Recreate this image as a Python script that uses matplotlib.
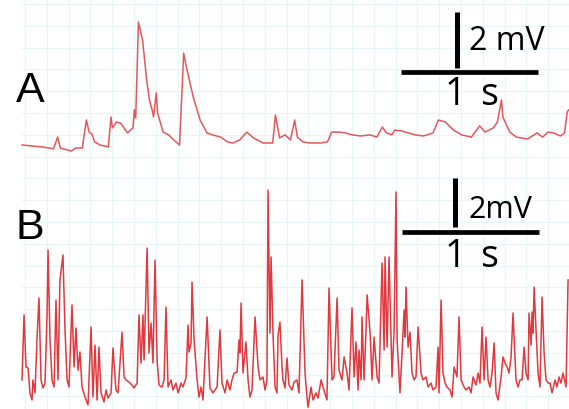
import numpy as np
import matplotlib
matplotlib.use("Agg")
import matplotlib.pyplot as plt

# trace A: time (s) and potential (mV)
time_a = [0.00, 0.08, 0.15, 0.23, 0.26, 0.28, 0.33, 0.36, 0.39, 0.44,
          0.47, 0.49, 0.51, 0.53, 0.57, 0.63, 0.65, 0.66, 0.69, 0.72,
          0.77, 0.81, 0.82, 0.83, 0.85, 0.88, 0.91, 0.93, 0.95, 0.96,
          0.98, 0.99, 1.03, 1.07, 1.10, 1.15, 1.18, 1.20, 1.25, 1.30,
          1.35, 1.39, 1.45, 1.50, 1.54, 1.59, 1.64, 1.69, 1.76, 1.83,
          1.85, 1.88, 1.92, 1.96, 1.99, 2.01, 2.05, 2.10, 2.18, 2.23,
          2.26, 2.31, 2.36, 2.41, 2.47, 2.54, 2.59, 2.63, 2.66, 2.70,
          2.72, 2.77, 2.82, 2.87, 2.93, 3.00, 3.04, 3.09, 3.15, 3.21,
          3.28, 3.34, 3.38, 3.44, 3.47, 3.50, 3.51, 3.56, 3.61, 3.69,
          3.76, 3.80, 3.84, 3.88, 3.93, 3.96, 3.98, 3.99]
volt_a = [0.18, 0.14, 0.11, 0.04, 0.46, 0.07, 0.00, -0.04, 0.07, 0.07,
          1.07, 0.64, 0.57, 0.29, 0.18, 0.11, 1.18, 0.79, 1.00, 0.96,
          0.61, 0.79, 1.43, 1.14, 4.57, 3.93, 2.50, 1.79, 1.43, 1.18,
          2.04, 1.32, 0.64, 0.54, 0.39, 0.18, 3.46, 2.96, 1.89, 1.07,
          0.61, 0.54, 0.46, 0.29, 0.25, 0.36, 0.64, 0.43, 0.25, 0.25,
          1.25, 0.43, 0.54, 0.36, 1.07, 0.46, 0.29, 0.25, 0.25, 0.29,
          0.64, 0.64, 0.61, 0.54, 0.50, 0.54, 0.46, 0.82, 0.61, 0.54,
          0.71, 0.68, 0.61, 0.54, 0.50, 0.61, 1.07, 1.00, 0.71, 0.54,
          0.46, 0.86, 0.64, 0.79, 1.00, 1.79, 1.18, 0.64, 0.46, 0.39,
          0.61, 0.46, 0.64, 0.61, 0.50, 0.61, 1.36, 1.43]

# trace B: time (s) and potential (mV)
time_b = [0.000, 0.015, 0.029, 0.044, 0.058, 0.073, 0.080, 0.095, 0.109, 0.124,
          0.139, 0.153, 0.168, 0.183, 0.190, 0.204, 0.219, 0.234, 0.248, 0.263,
          0.277, 0.299, 0.314, 0.329, 0.343, 0.365, 0.380, 0.394, 0.409, 0.423,
          0.438, 0.460, 0.482, 0.504, 0.518, 0.533, 0.548, 0.562, 0.577, 0.599,
          0.613, 0.628, 0.650, 0.664, 0.686, 0.701, 0.730, 0.745, 0.759, 0.781,
          0.803, 0.818, 0.840, 0.854, 0.869, 0.883, 0.891, 0.913, 0.927, 0.942,
          0.956, 0.971, 0.986, 1.000, 1.022, 1.037, 1.051, 1.066, 1.088, 1.102,
          1.124, 1.139, 1.161, 1.175, 1.197, 1.212, 1.219, 1.234, 1.241, 1.256,
          1.278, 1.292, 1.307, 1.321, 1.351, 1.372, 1.394, 1.424, 1.445, 1.460,
          1.482, 1.497, 1.518, 1.533, 1.548, 1.570, 1.584, 1.591, 1.599, 1.613,
          1.635, 1.650, 1.664, 1.679, 1.701, 1.723, 1.737, 1.759, 1.774, 1.788,
          1.796, 1.810, 1.818, 1.832, 1.847, 1.861, 1.869, 1.883, 1.898, 1.905,
          1.920, 1.934, 1.949, 1.971, 1.986, 2.007, 2.022, 2.044, 2.066, 2.080,
          2.088, 2.110, 2.124, 2.146, 2.161, 2.183, 2.197, 2.219, 2.226, 2.241,
          2.263, 2.277, 2.300, 2.314, 2.336, 2.351, 2.373, 2.387, 2.409, 2.424,
          2.438, 2.453, 2.460, 2.475, 2.482, 2.497, 2.511, 2.519, 2.533, 2.541,
          2.555, 2.570, 2.592, 2.606, 2.628, 2.643, 2.650, 2.665, 2.679, 2.701,
          2.716, 2.730, 2.738, 2.759, 2.774, 2.789, 2.796, 2.803, 2.818, 2.832,
          2.847, 2.862, 2.876, 2.891, 2.913, 2.927, 2.949, 2.964, 2.986, 3.000,
          3.022, 3.037, 3.044, 3.059, 3.073, 3.088, 3.102, 3.124, 3.139, 3.154,
          3.175, 3.190, 3.205, 3.227, 3.241, 3.263, 3.278, 3.292, 3.314, 3.329,
          3.343, 3.358, 3.373, 3.387, 3.402, 3.416, 3.431, 3.446, 3.460, 3.475,
          3.497, 3.511, 3.526, 3.541, 3.555, 3.570, 3.584, 3.606, 3.621, 3.635,
          3.650, 3.665, 3.679, 3.694, 3.701, 3.716, 3.723, 3.730, 3.738, 3.752,
          3.767, 3.781, 3.796, 3.811, 3.825, 3.840, 3.854, 3.869, 3.891, 3.905,
          3.920, 3.934, 3.949, 3.971, 3.986]
volt_b = [0.82, 3.47, 1.35, 1.31, 0.29, 0.00, 0.82, 0.29, 2.45, 4.16,
          0.82, 0.49, 0.69, 3.55, 6.12, 2.57, 0.82, 0.53, 4.08, 0.82,
          4.90, 5.92, 2.86, 0.82, 0.53, 3.88, 1.35, 2.94, 1.22, 1.96,
          0.53, 0.12, -0.20, 2.98, 0.12, 2.24, 0.00, 2.16, 0.29, -0.08,
          0.41, 0.08, 0.29, 2.12, 0.41, 0.29, 2.77, 0.94, 0.82, 0.73,
          0.61, 0.49, 0.69, 3.47, 1.51, 3.47, 1.63, 6.20, 1.92, 3.14,
          1.51, 5.71, 1.63, 0.61, 0.53, 0.82, 3.79, 0.53, 0.82, 0.41,
          0.69, 0.29, 0.69, 0.53, 0.90, 3.06, 1.96, 2.33, 4.81, 2.45,
          0.82, 0.12, 0.53, 0.00, 3.39, 0.49, 0.29, 0.53, 2.86, 0.69,
          0.29, 0.82, 0.41, 0.82, 1.10, 1.14, 2.45, 1.92, 3.96, 1.10,
          2.37, 0.82, 0.12, 0.41, 3.39, 1.35, 0.82, 0.94, 0.41, 0.82,
          8.57, 2.73, 5.84, 2.73, 0.53, 0.29, 2.65, 3.18, 1.35, 0.82,
          0.49, 1.71, 0.61, 0.41, 0.73, 0.82, 0.29, 4.90, 1.10, 0.12,
          -0.29, 0.53, 0.00, 0.29, 0.08, 0.82, 0.53, 0.12, 0.00, 4.57,
          0.82, 0.94, 4.16, 1.22, 0.82, 1.76, 1.10, 0.41, 3.76, 0.94,
          2.37, 0.41, 2.04, 0.82, 3.39, 0.82, 2.86, 4.29, 3.27, 2.73,
          0.82, 2.57, 0.94, 0.69, 5.59, 2.04, 5.84, 2.16, 5.84, 0.94,
          2.86, 8.49, 2.45, 0.29, 1.92, 3.67, 2.57, 4.61, 2.16, 2.77,
          1.10, 0.82, 0.94, 2.98, 1.10, 0.82, 0.94, 0.53, 0.69, 0.41,
          0.53, 2.16, 0.29, 4.08, 1.10, 0.69, 0.53, 0.41, 0.12, 1.35,
          0.94, 3.39, 0.82, 0.53, 0.41, 0.53, 0.29, 0.94, 0.61, 1.10,
          0.69, 2.98, 0.82, 2.57, 0.82, 0.53, 1.10, 2.33, 0.29, 0.00,
          0.94, 1.76, 1.51, 1.35, 1.10, 1.76, 3.55, 0.82, 0.53, 0.82,
          0.82, 2.16, 1.10, 0.82, 3.55, 2.24, 3.59, 2.73, 4.61, 2.86,
          1.10, 0.53, 4.20, 1.92, 0.82, 0.69, 0.69, 0.29, 0.82, 0.53,
          0.94, 0.69, 1.10, 0.53, 4.90]

trace_color = "#e0393e"
grid_color = "#e6f5f8"
W, H = 569, 409
fig = plt.figure(figsize=(W / 100, H / 100), dpi=100)

# graph-paper background
bg = fig.add_axes([0, 0, 1, 1])
bg.set_xlim(0, W)
bg.set_ylim(H, 0)
bg.axis("off")
for gx in np.arange(25, W, 21.8):
    bg.axvline(gx, color=grid_color, lw=0.8, zorder=0)
for gy in np.arange(4, H, 21.8):
    bg.plot([22, W], [gy, gy], color=grid_color, lw=0.8, zorder=0)

# panel A (28 px per mV, 137 px per s)
ax_a = fig.add_axes([0, 1 - 170 / H, 1, 170 / H])
ax_a.set_xlim(-22 / 137, 547 / 137)
ax_a.set_ylim(-20 / 28, 150 / 28)
ax_a.axis("off")
ax_a.plot(time_a, volt_a, color=trace_color, lw=1.1, alpha=0.85)
ax_a.plot([3.175, 3.175], [2.93, 4.93], color="black", lw=3.6, solid_capstyle="butt")
ax_a.plot([2.77, 3.77], [2.79, 2.79], color="black", lw=3.4, solid_capstyle="butt")
ax_a.text(3.26, 3.86, "2 mV", fontsize=23, family="Open Sans", va="center", ha="left")
ax_a.text(3.161, 1.96, "1", fontsize=27, family="Open Sans", va="center", ha="center")
ax_a.text(3.409, 1.96, "s", fontsize=27, family="Open Sans", va="center", ha="center")
ax_a.text(0.058, 2.11, "A", fontsize=31, family="Liberation Sans", va="center", ha="center")

# panel B (24.5 px per mV)
ax_b = fig.add_axes([0, 0, 1, 239 / H])
ax_b.set_xlim(-22 / 137, 547 / 137)
ax_b.set_ylim(-9 / 24.5, 230 / 24.5)
ax_b.axis("off")
ax_b.plot(time_b, volt_b, color=trace_color, lw=1.1)
ax_b.plot([3.161, 3.161], [7.06, 9.06], color="black", lw=3.6, solid_capstyle="butt")
ax_b.plot([2.774, 3.774], [6.86, 6.86], color="black", lw=3.4, solid_capstyle="butt")
ax_b.text(3.26, 7.76, "2mV", fontsize=22, family="Open Sans", va="center", ha="left")
ax_b.text(3.161, 5.82, "1", fontsize=27, family="Open Sans", va="center", ha="center")
ax_b.text(3.409, 5.82, "s", fontsize=27, family="Open Sans", va="center", ha="center")
ax_b.text(0.058, 7.02, "B", fontsize=31, family="Liberation Sans", va="center", ha="center")

fig.savefig("out.png", dpi=100)
plt.close()
